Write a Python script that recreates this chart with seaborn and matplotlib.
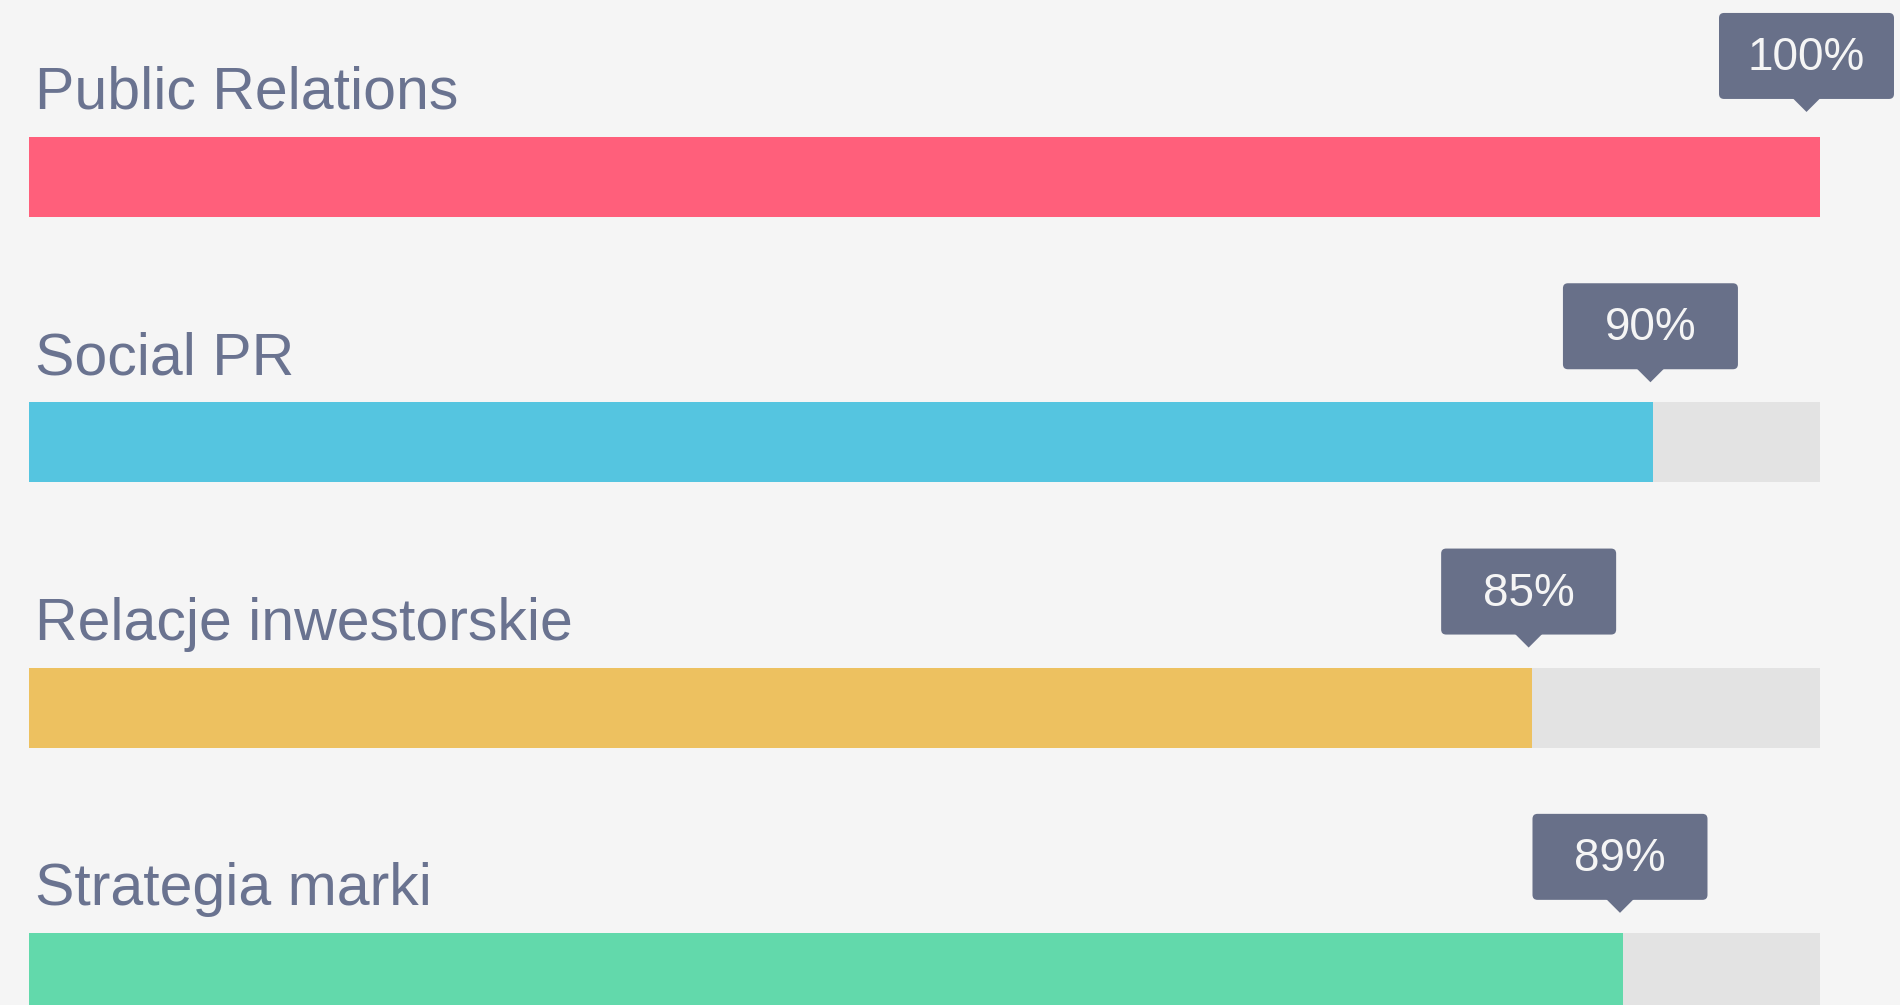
import matplotlib.pyplot as plt
import seaborn as sns
import pandas as pd
from matplotlib.patches import FancyBboxPatch, Polygon
from matplotlib.transforms import IdentityTransform

# Skill names, bar fill (percent of track, as drawn) and the tooltip labels
skills = ['Public Relations', 'Social PR', 'Relacje inwestorskie', 'Strategia marki']
fills = [100, 90.7, 83.9, 89.0]
tip_labels = ['100%', '90%', '85%', '89%']
bar_colors = ['#FF5F7B', '#55C5E0', '#EDC160', '#62D9AB']
track_max = [100, 100, 100, 100]

bg = '#F5F5F5'
track_color = '#E3E3E3'
tip_color = '#687089'
label_color = '#6A7390'

df = pd.DataFrame({'skill': skills, 'level': fills, 'max': track_max})

sns.set_theme(style='white')
plt.rcParams['font.family'] = ['Liberation Sans', 'DejaVu Sans']

W, H = 1900, 1005
fig = plt.figure(figsize=(W / 100, H / 100), dpi=100, facecolor=bg)
ax = fig.add_axes([0, 0, 1, 1])
ax.set_facecolor(bg)

bar_w = 80 / 265
# grey track behind each bar, then the coloured fill
sns.barplot(data=df, x='max', y='skill', orient='h', color=track_color,
            width=bar_w, saturation=1, linewidth=0, ax=ax)
sns.barplot(data=df, x='level', y='skill', hue='skill', palette=bar_colors,
            orient='h', width=bar_w, saturation=1, linewidth=0,
            legend=False, ax=ax)

# map data to pixels: bar starts at x=29px, 100% at x=1820px
px_per_unit = 1791 / 100
ax.set_xlim(-29 / px_per_unit, (W - 29) / px_per_unit)
ax.set_ylim((H - 177) / 265.3, -177 / 265.3)
ax.axis('off')

box_w, box_h = 175, 86
for i, (name, v, lab) in enumerate(zip(skills, fills, tip_labels)):
    # label above the bar
    ax.annotate(name, xy=(0, i - bar_w / 2), xycoords='data',
                xytext=(6, 28), textcoords='offset pixels',
                ha='left', va='baseline', fontsize=42.5, color=label_color)

    # tooltip with the percentage
    end_x, bar_top = ax.transData.transform((v, i - bar_w / 2))
    cx = min(end_x - 3, W - box_w / 2 - 6)
    tip_y = bar_top + (25 if i == 0 else 20)
    box_y = tip_y + 13
    box = FancyBboxPatch((cx - box_w / 2, box_y), box_w, box_h,
                         boxstyle='round,pad=0,rounding_size=5',
                         facecolor=tip_color, edgecolor='none',
                         transform=IdentityTransform())
    fig.add_artist(box)
    tri = Polygon([(cx - 14, box_y + 1), (cx + 14, box_y + 1), (cx, tip_y)],
                  closed=True, facecolor=tip_color, edgecolor='none',
                  transform=IdentityTransform())
    fig.add_artist(tri)
    fig.text(cx / W, (box_y + box_h / 2 - 2) / H, lab, ha='center',
             va='center', fontsize=33, color='#F5F5F5')

fig.savefig('out.png', dpi=100, facecolor=bg)
